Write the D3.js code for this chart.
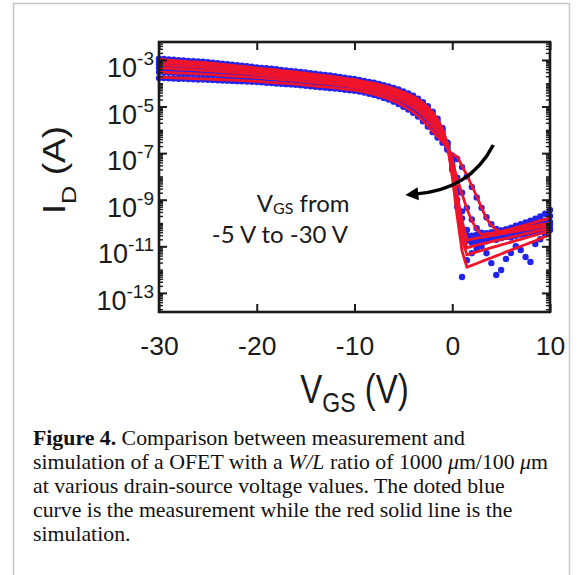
<!DOCTYPE html>
<html>
<head>
<meta charset="utf-8">
<script src="https://cdn.jsdelivr.net/npm/d3@7"></script>
<style>
  body { margin: 0; background: #fff; }
  svg { display: block; }
</style>
</head>
<body>
<div id="container"></div>
<script>
let w = 581;
let h = 575;

// gate sweep (V)
const vgs = [-30,-29.5,-29,-28.5,-28,-27.5,-27,-26.5,-26,-25.5,-25,-24.5,-24,-23.5,-23,-22.5,-22,-21.5,-21,-20.5,
  -20,-19.5,-19,-18.5,-18,-17.5,-17,-16.5,-16,-15.5,-15,-14.5,-14,-13.5,-13,-12.5,-12,-11.5,-11,-10.5,
  -10,-9.5,-9,-8.5,-8,-7.5,-7,-6.5,-6,-5.5,-5,-4.5,-4,-3.5,-3,-2.5,-2,-1.5,-1,-0.5,
  0,0.5,1,1.5,2,2.5,3,3.5,4,4.5,5,5.5,6,6.5,7,7.5,8,8.5,9,9.5,10];

const vdsValues = [-30, -25, -20, -15, -10, -5];

// measurement, log10(I_D / A), one list per V_DS
const measVds30 = [-2.95,-2.96,-2.98,-2.99,-3.01,-3.02,-3.04,-3.05,-3.07,-3.08,-3.10,
  -3.12,-3.14,-3.16,-3.18,-3.20,-3.23,-3.25,-3.27,-3.29,-3.32,
  -3.34,-3.36,-3.38,-3.40,-3.43,-3.45,-3.47,-3.49,-3.52,-3.54,
  -3.57,-3.59,-3.62,-3.64,-3.67,-3.70,-3.73,-3.76,-3.79,-3.82,
  -3.86,-3.90,-3.94,-3.98,-4.03,-4.08,-4.14,-4.20,-4.27,-4.35,
  -4.44,-4.54,-4.66,-4.81,-4.99,-5.22,-5.52,-5.92,-6.55,-7.70,
  -9.30,-12.32,-11.60,-11.30,-11.10,-11.00,-11.30,-11.72,-12.23,-12.02,
  -11.54,-11.29,-11.00,-11.16,-11.46,-11.67,-10.90,-10.70,-10.50,-10.30];
const measVds25 = [-3.08,-3.09,-3.11,-3.12,-3.14,-3.15,-3.17,-3.18,-3.19,-3.20,-3.22,
  -3.24,-3.26,-3.28,-3.30,-3.32,-3.35,-3.37,-3.39,-3.41,-3.43,
  -3.45,-3.47,-3.49,-3.51,-3.54,-3.56,-3.58,-3.60,-3.63,-3.65,
  -3.67,-3.69,-3.72,-3.74,-3.77,-3.80,-3.83,-3.86,-3.89,-3.92,
  -3.96,-4.00,-4.04,-4.09,-4.14,-4.19,-4.25,-4.32,-4.39,-4.47,
  -4.56,-4.67,-4.79,-4.95,-5.14,-5.37,-5.66,-6.00,-6.55,-7.70,
  -9.00,-10.30,-10.75,-10.85,-10.80,-10.75,-10.78,-10.70,-10.72,-10.65,
  -10.60,-10.62,-10.55,-10.50,-10.48,-10.42,-10.38,-10.30,-10.25,-10.20];
const measVds20 = [-3.20,-3.21,-3.23,-3.24,-3.25,-3.27,-3.28,-3.29,-3.31,-3.32,-3.34,
  -3.36,-3.37,-3.39,-3.41,-3.43,-3.45,-3.47,-3.49,-3.50,-3.52,
  -3.54,-3.56,-3.58,-3.60,-3.62,-3.64,-3.66,-3.68,-3.71,-3.73,
  -3.75,-3.77,-3.80,-3.82,-3.85,-3.87,-3.90,-3.93,-3.96,-3.99,
  -4.03,-4.07,-4.11,-4.16,-4.21,-4.27,-4.34,-4.41,-4.48,-4.56,
  -4.66,-4.77,-4.90,-5.07,-5.27,-5.50,-5.78,-6.10,-6.60,-7.60,
  -8.70,-9.80,-10.55,-10.70,-10.65,-10.62,-10.58,-10.60,-10.52,-10.50,
  -10.45,-10.42,-10.40,-10.35,-10.30,-10.28,-10.22,-10.18,-10.12,-10.05];
const measVds15 = [-3.34,-3.35,-3.36,-3.37,-3.39,-3.40,-3.41,-3.42,-3.44,-3.45,-3.46,
  -3.48,-3.49,-3.51,-3.52,-3.54,-3.56,-3.57,-3.59,-3.61,-3.63,
  -3.64,-3.66,-3.68,-3.70,-3.72,-3.74,-3.76,-3.77,-3.80,-3.82,
  -3.84,-3.86,-3.88,-3.90,-3.93,-3.95,-3.98,-4.01,-4.04,-4.07,
  -4.11,-4.15,-4.19,-4.24,-4.29,-4.35,-4.42,-4.49,-4.57,-4.66,
  -4.77,-4.89,-5.03,-5.21,-5.42,-5.65,-5.92,-6.20,-6.70,-7.50,
  -8.50,-9.50,-10.30,-10.55,-10.50,-10.48,-10.45,-10.42,-10.40,-10.36,
  -10.33,-10.30,-10.26,-10.22,-10.18,-10.15,-10.10,-10.05,-10.00,-9.95];
const measVds10 = [-3.52,-3.53,-3.54,-3.55,-3.56,-3.57,-3.58,-3.59,-3.60,-3.61,-3.62,
  -3.63,-3.65,-3.66,-3.67,-3.69,-3.70,-3.71,-3.73,-3.74,-3.76,
  -3.77,-3.79,-3.80,-3.82,-3.84,-3.85,-3.87,-3.89,-3.91,-3.93,
  -3.95,-3.97,-3.99,-4.01,-4.03,-4.06,-4.08,-4.11,-4.14,-4.17,
  -4.21,-4.25,-4.30,-4.35,-4.41,-4.47,-4.54,-4.62,-4.70,-4.80,
  -4.91,-5.04,-5.19,-5.37,-5.59,-5.85,-6.10,-6.35,-6.80,-7.35,
  -8.05,-8.70,-9.35,-9.85,-10.22,-10.42,-10.45,-10.40,-10.36,-10.32,
  -10.28,-10.24,-10.20,-10.16,-10.12,-10.08,-10.02,-9.97,-9.90,-9.70];
const measVds5 = [-3.78,-3.78,-3.79,-3.80,-3.81,-3.81,-3.82,-3.83,-3.84,-3.84,-3.85,
  -3.86,-3.87,-3.88,-3.89,-3.90,-3.91,-3.92,-3.93,-3.94,-3.95,
  -3.96,-3.98,-3.99,-4.01,-4.02,-4.04,-4.05,-4.07,-4.09,-4.11,
  -4.13,-4.15,-4.17,-4.19,-4.21,-4.23,-4.25,-4.28,-4.30,-4.32,
  -4.36,-4.40,-4.45,-4.50,-4.56,-4.63,-4.70,-4.79,-4.89,-5.01,
  -5.13,-5.27,-5.43,-5.63,-5.86,-6.10,-6.33,-6.55,-6.85,-7.10,
  -7.25,-7.60,-8.00,-8.45,-8.90,-9.35,-9.75,-10.05,-10.25,-10.33,
  -10.28,-10.20,-10.12,-10.05,-9.98,-9.90,-9.82,-9.72,-9.60,-9.44];

// simulation, log10(I_D / A)
const simVds30 = [-2.98,-2.99,-3.01,-3.02,-3.04,-3.05,-3.07,-3.08,-3.10,-3.11,-3.13,
  -3.15,-3.17,-3.19,-3.21,-3.23,-3.26,-3.28,-3.30,-3.32,-3.35,
  -3.37,-3.39,-3.41,-3.43,-3.46,-3.48,-3.50,-3.52,-3.55,-3.57,
  -3.60,-3.62,-3.65,-3.67,-3.70,-3.73,-3.76,-3.79,-3.82,-3.85,
  -3.89,-3.93,-3.97,-4.01,-4.06,-4.11,-4.17,-4.23,-4.30,-4.38,
  -4.47,-4.57,-4.69,-4.84,-5.02,-5.25,-5.55,-5.95,-6.60,-8.00,
  -9.70,-11.20,-11.90,-11.82,-11.74,-11.65,-11.57,-11.49,-11.41,-11.33,
  -11.24,-11.16,-11.08,-11.00,-10.92,-10.84,-10.76,-10.67,-10.59,-10.51];
const simVds25 = [-3.08,-3.09,-3.11,-3.12,-3.14,-3.15,-3.17,-3.18,-3.19,-3.20,-3.22,
  -3.24,-3.26,-3.28,-3.30,-3.32,-3.35,-3.37,-3.39,-3.41,-3.43,
  -3.45,-3.47,-3.49,-3.51,-3.54,-3.56,-3.58,-3.60,-3.63,-3.65,
  -3.67,-3.69,-3.72,-3.74,-3.77,-3.80,-3.83,-3.86,-3.89,-3.92,
  -3.96,-4.00,-4.04,-4.09,-4.14,-4.19,-4.25,-4.32,-4.39,-4.47,
  -4.56,-4.67,-4.79,-4.95,-5.14,-5.37,-5.66,-6.00,-6.60,-7.90,
  -9.40,-10.70,-11.37,-11.30,-11.24,-11.18,-11.12,-11.06,-11.00,-10.94,
  -10.88,-10.82,-10.76,-10.70,-10.64,-10.58,-10.52,-10.46,-10.40,-10.35];
const simVds20 = [-3.20,-3.21,-3.23,-3.24,-3.25,-3.27,-3.28,-3.29,-3.31,-3.32,-3.34,
  -3.36,-3.37,-3.39,-3.41,-3.43,-3.45,-3.47,-3.49,-3.50,-3.52,
  -3.54,-3.56,-3.58,-3.60,-3.62,-3.64,-3.66,-3.68,-3.71,-3.73,
  -3.75,-3.77,-3.80,-3.82,-3.85,-3.87,-3.90,-3.93,-3.96,-3.99,
  -4.03,-4.07,-4.11,-4.16,-4.21,-4.27,-4.34,-4.41,-4.48,-4.56,
  -4.66,-4.77,-4.90,-5.07,-5.27,-5.50,-5.78,-6.10,-6.65,-7.80,
  -9.10,-10.30,-11.07,-11.00,-10.95,-10.90,-10.85,-10.80,-10.75,-10.70,
  -10.66,-10.61,-10.56,-10.51,-10.46,-10.41,-10.36,-10.31,-10.27,-10.22];
const simVds15 = [-3.34,-3.35,-3.36,-3.37,-3.39,-3.40,-3.41,-3.42,-3.44,-3.45,-3.46,
  -3.48,-3.49,-3.51,-3.52,-3.54,-3.56,-3.57,-3.59,-3.61,-3.63,
  -3.64,-3.66,-3.68,-3.70,-3.72,-3.74,-3.76,-3.77,-3.80,-3.82,
  -3.84,-3.86,-3.88,-3.90,-3.93,-3.95,-3.98,-4.01,-4.04,-4.07,
  -4.11,-4.15,-4.19,-4.24,-4.29,-4.35,-4.42,-4.49,-4.57,-4.66,
  -4.77,-4.89,-5.03,-5.21,-5.42,-5.65,-5.92,-6.20,-6.70,-7.60,
  -8.80,-9.90,-10.73,-10.69,-10.65,-10.62,-10.58,-10.54,-10.51,-10.47,
  -10.43,-10.39,-10.36,-10.32,-10.28,-10.25,-10.21,-10.17,-10.14,-10.10];
const simVds10 = [-3.52,-3.53,-3.54,-3.55,-3.56,-3.57,-3.58,-3.59,-3.60,-3.61,-3.62,
  -3.63,-3.65,-3.66,-3.67,-3.69,-3.70,-3.71,-3.73,-3.74,-3.76,
  -3.77,-3.79,-3.80,-3.82,-3.84,-3.85,-3.87,-3.89,-3.91,-3.93,
  -3.95,-3.97,-3.99,-4.01,-4.03,-4.06,-4.08,-4.11,-4.14,-4.17,
  -4.21,-4.25,-4.30,-4.35,-4.41,-4.47,-4.54,-4.62,-4.70,-4.80,
  -4.91,-5.04,-5.19,-5.37,-5.59,-5.85,-6.10,-6.35,-6.75,-7.30,
  -8.10,-8.75,-9.40,-9.90,-10.28,-10.50,-10.46,-10.43,-10.39,-10.36,
  -10.32,-10.28,-10.25,-10.21,-10.18,-10.14,-10.11,-10.07,-10.04,-10.00];
const simVds5 = [-3.75,-3.75,-3.76,-3.77,-3.78,-3.78,-3.79,-3.80,-3.81,-3.81,-3.82,
  -3.83,-3.84,-3.85,-3.86,-3.87,-3.88,-3.89,-3.90,-3.91,-3.92,
  -3.93,-3.95,-3.96,-3.98,-3.99,-4.01,-4.02,-4.04,-4.06,-4.08,
  -4.10,-4.12,-4.14,-4.16,-4.18,-4.20,-4.22,-4.25,-4.27,-4.29,
  -4.33,-4.37,-4.42,-4.47,-4.53,-4.60,-4.67,-4.76,-4.86,-4.98,
  -5.10,-5.24,-5.40,-5.60,-5.83,-6.07,-6.30,-6.50,-6.80,-7.05,
  -7.15,-7.55,-7.95,-8.40,-8.85,-9.35,-9.80,-10.10,-10.30,-10.38,
  -10.32,-10.26,-10.20,-10.14,-10.08,-10.02,-9.96,-9.90,-9.84,-9.78];

const measured = [measVds30, measVds25, measVds20, measVds15, measVds10, measVds5];
const simulated = [simVds30, simVds25, simVds20, simVds15, simVds10, simVds5];

const xTicks = [-30, -20, -10, 0, 10];
const yTickExp = [-3, -5, -7, -9, -11, -13];
const yExtentExp = [-13.82, -2.23];

// arrow across the V_DS family, in data units (V, log10 A)
const arrowPath = [[4.2, -6.65], [1.8, -8.6], [-3.9, -8.76]];
const arrowTip = [-4.8, -8.8];

let viz = d3.select("#container").append("svg")
  .attr("width", w)
  .attr("height", h)
  .style("background-color", "white");

// figure frame
viz.append("rect")
  .attr("x", 13.5).attr("y", 3.5)
  .attr("width", 556).attr("height", 640)
  .attr("fill", "none")
  .attr("stroke", "#c6c6c6")
  .attr("stroke-width", 1.5);

let plot = {left: 159, right: 550, top: 42, bottom: 312};

let x = d3.scaleLinear().domain([-30, 10]).range([plot.left, plot.right]);
let y = d3.scaleLog()
  .domain([Math.pow(10, yExtentExp[0]), Math.pow(10, yExtentExp[1])])
  .range([plot.bottom, plot.top]);

let blue = "#2323ee";
let red = "#f0142a";

// measured dots
measured.forEach(function(series, k){
  viz.append("g").attr("class", "meas")
    .selectAll("circle")
    .data(vgs.map((v, i) => ({v: v, id: Math.pow(10, series[i])})))
    .enter().append("circle")
      .attr("cx", d => x(d.v))
      .attr("cy", d => y(d.id))
      .attr("r", 3.2)
      .attr("fill", blue);
});

// simulated lines
let lineMaker = d3.line().x(d => x(d.v)).y(d => y(d.id));
simulated.forEach(function(series, k){
  viz.append("path")
    .datum(vgs.map((v, i) => ({v: v, id: Math.pow(10, series[i])})))
    .attr("d", lineMaker)
    .attr("fill", "none")
    .attr("stroke", red)
    .attr("stroke-width", 2.8)
    .attr("stroke-linejoin", "round");
});

// axes
let axisColor = "#1a1a1a";
function styleAxis(g, width){
  g.select(".domain").remove();
  g.selectAll(".tick line").attr("stroke", axisColor).attr("stroke-width", width);
}

viz.append("g").attr("transform", `translate(0,${plot.bottom})`)
  .call(d3.axisBottom(x).tickValues(xTicks).tickSizeInner(-8).tickSizeOuter(0)
        .tickPadding(24).tickFormat(d => String(d)))
  .call(g => styleAxis(g, 2))
  .call(g => g.selectAll("text")
        .attr("font-family", "'Liberation Sans', Arial, sans-serif")
        .attr("font-size", 26.5)
        .attr("fill", axisColor));

viz.append("g").attr("transform", `translate(0,${plot.top})`)
  .call(d3.axisTop(x).tickValues(xTicks).tickSizeInner(-8).tickSizeOuter(0).tickFormat(""))
  .call(g => styleAxis(g, 2));

let minorY = y.ticks(15).filter(t => !yTickExp.some(e => Math.abs(Math.log10(t) - e) < 1e-6));

[["left", plot.left, d3.axisLeft], ["right", plot.right, d3.axisRight]].forEach(function(a){
  viz.append("g").attr("transform", `translate(${a[1]},0)`)
    .call(a[2](y).tickValues(yTickExp.map(e => Math.pow(10, e))).tickSizeInner(-8).tickSizeOuter(0).tickFormat(""))
    .call(g => styleAxis(g, 2));
  viz.append("g").attr("transform", `translate(${a[1]},0)`)
    .call(a[2](y).tickValues(minorY).tickSizeInner(-4).tickSizeOuter(0).tickFormat(""))
    .call(g => styleAxis(g, 1.4));
});

// box
viz.append("rect")
  .attr("x", plot.left).attr("y", plot.top)
  .attr("width", plot.right - plot.left).attr("height", plot.bottom - plot.top)
  .attr("fill", "none")
  .attr("stroke", axisColor)
  .attr("stroke-width", 2.6);

// y tick labels 10^n
let yLab = viz.append("g")
  .attr("font-family", "'Liberation Sans', Arial, sans-serif")
  .attr("fill", axisColor);
yTickExp.forEach(function(e){
  let t = yLab.append("text")
    .attr("x", plot.left - 5)
    .attr("y", y(Math.pow(10, e)) + 17)
    .attr("text-anchor", "end");
  t.append("tspan").attr("font-size", 27).text("10");
  t.append("tspan").attr("font-size", 19).attr("dy", -12).text(String(e));
});

// axis titles
let xTitle = viz.append("text")
  .attr("transform", `translate(${(plot.left + plot.right) / 2},403) scale(1,1.22)`)
  .attr("text-anchor", "middle")
  .attr("font-family", "'Liberation Sans', Arial, sans-serif")
  .attr("fill", axisColor);
xTitle.append("tspan").attr("font-size", 33).text("V");
xTitle.append("tspan").attr("font-size", 23).attr("dy", 7).text("GS");
xTitle.append("tspan").attr("font-size", 33).attr("dy", -7).text(" (V)");

let yTitle = viz.append("text")
  .attr("transform", "translate(65,170) rotate(-90) scale(1.2,1)")
  .attr("text-anchor", "middle")
  .attr("font-family", "'Liberation Sans', Arial, sans-serif")
  .attr("fill", axisColor);
yTitle.append("tspan").attr("font-size", 31).text("I");
yTitle.append("tspan").attr("font-size", 21).attr("dy", 11).text("D");
yTitle.append("tspan").attr("font-size", 31).attr("dy", -11).text(" (A)");

// annotation
let note = viz.append("g")
  .attr("font-family", "Lato, 'Open Sans', sans-serif")
  .attr("fill", "#1a1a1a");
let n1 = note.append("text").attr("x", x(-20)).attr("y", y(Math.pow(10, -9.53)));
n1.append("tspan").attr("font-size", 24).text("V");
n1.append("tspan").attr("font-size", 16).attr("dy", 2).text("GS");
n1.append("tspan").attr("font-size", 24).attr("dy", -2).text(" from");
note.append("text").attr("x", x(-24.6)).attr("y", y(Math.pow(10, -10.86)))
  .attr("font-size", 24).text("-5 V to -30 V");

let arrowPx = arrowPath.map(p => [x(p[0]), y(Math.pow(10, p[1]))]);
viz.append("path")
  .attr("d", `M${arrowPx[0]}Q${arrowPx[1]} ${arrowPx[2]}`)
  .attr("fill", "none")
  .attr("stroke", "black")
  .attr("stroke-width", 3.5);
let tip = [x(arrowTip[0]), y(Math.pow(10, arrowTip[1]))];
let base = arrowPx[2];
let ang = Math.atan2(tip[1] - base[1], tip[0] - base[0]);
let hl = 13, hw = 6.5;
let back = [tip[0] - hl * Math.cos(ang), tip[1] - hl * Math.sin(ang)];
viz.append("path")
  .attr("d", `M${tip}L${back[0] - hw * Math.sin(ang)},${back[1] + hw * Math.cos(ang)}L${back[0] + hw * Math.sin(ang)},${back[1] - hw * Math.cos(ang)}Z`)
  .attr("fill", "black");

// caption
const captionLines = [
  [["Figure 4.", "b"], [" Comparison between measurement and", ""]],
  [["simulation of a OFET with a ", ""], ["W/L", "i"], [" ratio of 1000 ", ""], ["\u03bc", "i"], ["m/100 ", ""], ["\u03bc", "i"], ["m", ""]],
  [["at various drain-source voltage values. The doted blue", ""]],
  [["curve is the measurement while the red solid line is the", ""]],
  [["simulation.", ""]]
];
let cap = viz.append("g")
  .attr("font-family", "'Liberation Serif', 'Times New Roman', serif")
  .attr("font-size", 21.8)
  .attr("fill", "#111");
captionLines.forEach(function(line, i){
  let t = cap.append("text").attr("x", 33).attr("y", 445 + i * 24);
  line.forEach(function(part){
    t.append("tspan")
      .attr("font-weight", part[1] == "b" ? "bold" : null)
      .attr("font-style", part[1] == "i" ? "italic" : null)
      .text(part[0]);
  });
});
</script>
</body>
</html>
